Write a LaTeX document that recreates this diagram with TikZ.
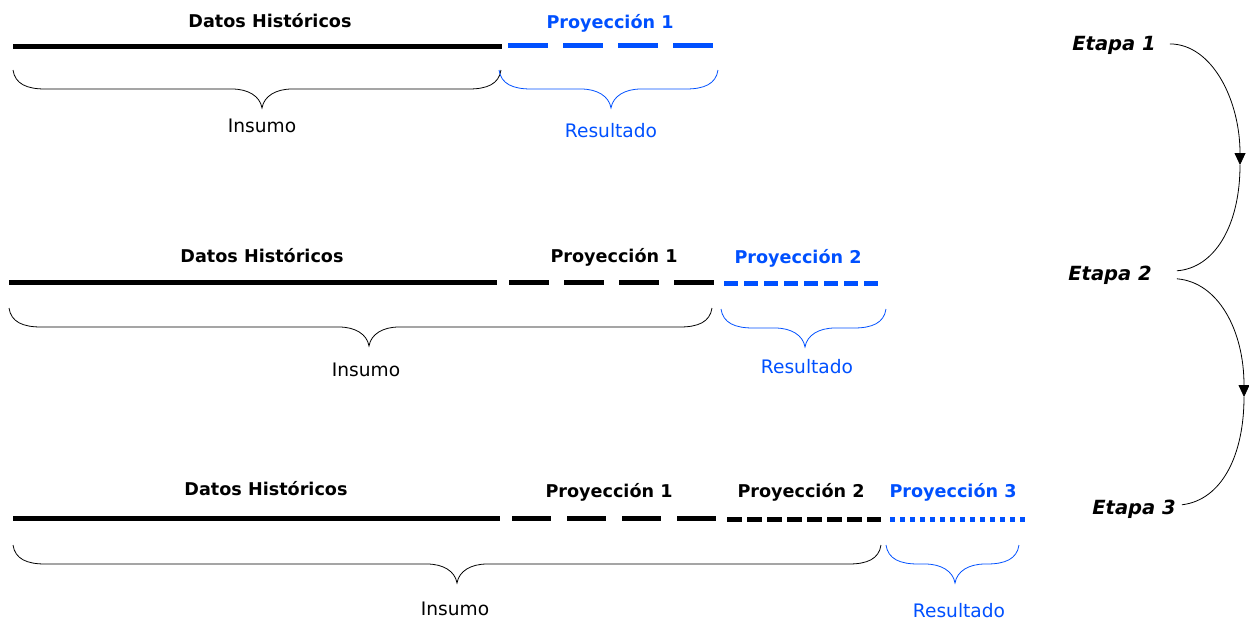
\documentclass[tikz,border=0pt]{standalone}
\usepackage{fontspec}
\setmainfont{DejaVu Sans}
\usetikzlibrary{arrows.meta}
\definecolor{pblue}{RGB}{0,80,255}
\tikzset{
  ttl/.style={font=\fontsize{17.6}{20}\selectfont\bfseries, anchor=base, inner sep=0pt},
  lbl/.style={font=\fontsize{18.6}{21}\selectfont, anchor=base, inner sep=0pt},
  etp/.style={font=\fontsize{19.5}{22}\selectfont\bfseries\itshape, anchor=base, inner sep=0pt},
  solidbar/.style={line width=5pt},
  longdash/.style={line width=5pt, dash pattern=on 40pt off 15pt},
  shortdash/.style={line width=5pt, dash pattern=on 14pt off 6pt},
  dotdash/.style={line width=5pt, dash pattern=on 4.5pt off 5.5pt},
  brc/.style={line width=0.8pt},
  flow/.style={line width=0.8pt}
}
% brace: #1 x left, #2 x right, #3 x tip, #4 y top, #5 colour
\newcommand\mybrace[5]{%
  \draw[brc,#5] ({#1},{#4}) .. controls ({#1+2},{#4+14}) and ({#1+14},{#4+19}) .. ({#1+32},{#4+19})
    -- ({#3-30},{#4+19}) .. controls ({#3-14},{#4+19}) and ({#3-2},{#4+26}) .. ({#3},{#4+38})
    .. controls ({#3+2},{#4+26}) and ({#3+14},{#4+19}) .. ({#3+30},{#4+19})
    -- ({#2-32},{#4+19}) .. controls ({#2-14},{#4+19}) and ({#2-2},{#4+14}) .. ({#2},{#4});}
\begin{document}
\begin{tikzpicture}[x=1pt,y=-1pt]
\useasboundingbox (0,0) rectangle (1249,622);
% ---- row 1
\node[ttl] (dh1) at (270,27) {Datos Históricos};
\node[ttl,pblue] (p11) at (610,28) {Proyección 1};
\draw[solidbar] (13,46) -- (502,46);
\draw[longdash,pblue] (508,45) -- (713,45);
\mybrace{13}{501}{262}{70}{black}
\mybrace{499}{718}{611}{70}{pblue}
\node[lbl] (in1) at (262,132) {Insumo};
\node[lbl,pblue] (re1) at (611,137) {Resultado};
% ---- row 2
\node[ttl] (dh2) at (262,262) {Datos Históricos};
\node[ttl] (p21) at (614,262) {Proyección 1};
\node[ttl,pblue] (p22) at (798,263) {Proyección 2};
\draw[solidbar] (9,282) -- (497,282);
\draw[longdash] (509,282) -- (714,282);
\draw[shortdash,pblue] (724,283) -- (878,283);
\mybrace{9}{712}{369}{308}{black}
\mybrace{721}{886}{805}{309}{pblue}
\node[lbl] (in2) at (366,376) {Insumo};
\node[lbl,pblue] (re2) at (807,373) {Resultado};
% ---- row 3
\node[ttl] (dh3) at (266,495) {Datos Históricos};
\node[ttl] (p31) at (609,497) {Proyección 1};
\node[ttl] (p32) at (801,497) {Proyección 2};
\node[ttl,pblue] (p33) at (953,497) {Proyección 3};
\draw[solidbar] (13,518) -- (500,518);
\draw[longdash, dash pattern=on 39pt off 16pt] (512,518) -- (716,518);
\draw[shortdash, dash pattern=on 15pt off 5pt] (727,519) -- (881,519);
\draw[dotdash,pblue] (890,519) -- (1025,519);
\mybrace{13}{881}{457}{545}{black}
\mybrace{886}{1019}{955}{545}{pblue}
\node[lbl] (in3) at (455,615) {Insumo};
\node[lbl,pblue] (re3) at (959,617) {Resultado};
% ---- stages
\node[etp] (e1) at (1114,50) {Etapa 1};
\node[etp] (e2) at (1110,280) {Etapa 2};
\node[etp] (e3) at (1134,514) {Etapa 3};
\coordinate (m1) at (1240,165);
\coordinate (m2) at (1244,397);
\draw[flow,-{Triangle[length=12pt,width=11pt]}] ([xshift=14pt,yshift=1pt]e1.east) .. controls (1212,44) and (1240,100) .. (m1);
\draw[flow] (m1) .. controls (1240,225) and (1215,268) .. ([xshift=25pt,yshift=4pt]e2.east);
\draw[flow,-{Triangle[length=12pt,width=11pt]}] ([xshift=25pt,yshift=-4pt]e2.east) .. controls (1218,282) and (1244,330) .. (m2);
\draw[flow] (m2) .. controls (1244,455) and (1222,500) .. ([xshift=6pt,yshift=4pt]e3.east);
\end{tikzpicture}
\end{document}
